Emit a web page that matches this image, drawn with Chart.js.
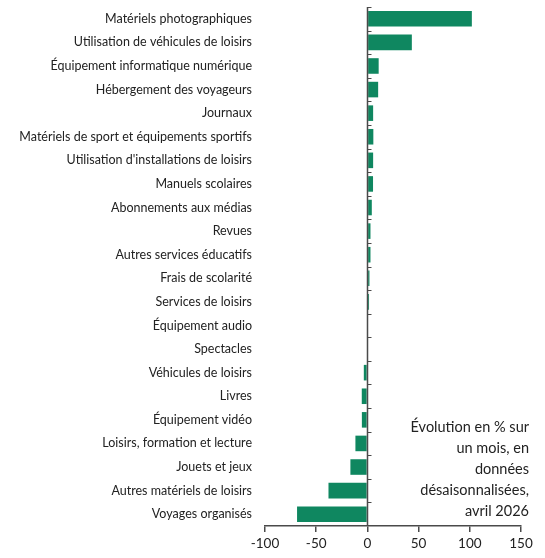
<!DOCTYPE html>
<html lang="fr">
<head>
<meta charset="utf-8">
<script src="https://cdn.jsdelivr.net/npm/chart.js@4.4.1/dist/chart.umd.min.js"></script>
<style>
    html, body { margin: 0; padding: 0; background: #fff; }
    #wrap { position: relative; width: 545px; height: 558px; }
    canvas { display: block; }
    #note {
        position: absolute; right: 16px; top: 416px;
        font-family: Lato, sans-serif; font-size: 14.5px; line-height: 21px;
        color: #222; text-align: right;
    }
</style>
</head>
<body>
<div id="wrap">
    <canvas id="chart" width="545" height="558"></canvas>
    <div id="note">Évolution en % sur<br>un mois, en<br>données<br>désaisonnalisées,<br>avril 2026</div>
</div>
<script>
const categories = [
    "Matériels photographiques",
    "Utilisation de véhicules de loisirs",
    "Équipement informatique numérique",
    "Hébergement des voyageurs",
    "Journaux",
    "Matériels de sport et équipements sportifs",
    "Utilisation d'installations de loisirs",
    "Manuels scolaires",
    "Abonnements aux médias",
    "Revues",
    "Autres services éducatifs",
    "Frais de scolarité",
    "Services de loisirs",
    "Équipement audio",
    "Spectacles",
    "Véhicules de loisirs",
    "Livres",
    "Équipement vidéo",
    "Loisirs, formation et lecture",
    "Jouets et jeux",
    "Autres matériels de loisirs",
    "Voyages organisés"
];
const changes = [102, 43.4, 11, 10.5, 5.6, 5.8, 5.6, 5.5, 4.3, 3, 3, 2, 1.6, 0, 0,
    -3.5, -5.5, -5.4, -11.7, -16.6, -38, -68.7];
const xTicks = [-100, -50, 0, 50, 100, 150];

const axisColor = '#4a4a4a';

// zero line with small ticks between categories
const zeroAxis = {
    id: 'zeroAxis',
    afterDatasetsDraw(chart) {
        const { ctx, scales: { x }, chartArea } = chart;
        const x0 = Math.round(x.getPixelForValue(0)) + 0.5;
        ctx.save();
        ctx.strokeStyle = axisColor;
        ctx.lineWidth = 1.5;
        ctx.beginPath();
        ctx.moveTo(x0, chartArea.top);
        ctx.lineTo(x0, chartArea.bottom);
        ctx.stroke();
        ctx.lineWidth = 1;
        const step = (chartArea.bottom - chartArea.top) / categories.length;
        for (let i = 0; i < categories.length; i++) {
            const yy = Math.round(chartArea.top + i * step) + 0.5;
            ctx.beginPath();
            ctx.moveTo(x0, yy);
            ctx.lineTo(x0 + 4, yy);
            ctx.stroke();
        }
        ctx.restore();
    }
};

new Chart(document.getElementById('chart').getContext('2d'), {
    type: 'bar',
    data: {
        labels: categories,
        datasets: [{
            data: changes,
            backgroundColor: '#0f8760',
            borderWidth: 0,
            barPercentage: 0.66,
            categoryPercentage: 1
        }]
    },
    options: {
        indexAxis: 'y',
        responsive: false,
        animation: false,
        layout: { padding: { top: 7, right: 24, left: 0, bottom: 0 } },
        plugins: { legend: { display: false }, tooltip: { enabled: false } },
        scales: {
            x: {
                min: -100, max: 150,
                afterBuildTicks(scale) { scale.ticks = xTicks.map(v => ({ value: v })); },
                afterFit(scale) { scale.height = 32; scale.paddingLeft = 0; scale.paddingRight = 0; },
                border: { display: true, color: axisColor, width: 1.5 },
                grid: { drawOnChartArea: false, drawTicks: true, tickLength: 6, color: axisColor, lineWidth: 1.5 },
                ticks: { padding: 4, color: '#222', font: { family: 'Lato', size: 13.5 } }
            },
            y: {
                afterFit(scale) { scale.width = 265; scale.paddingTop = 0; scale.paddingBottom = 0; },
                border: { display: false },
                grid: { display: false, drawTicks: false },
                ticks: { padding: 13, color: '#222', autoSkip: false, font: { family: 'Lato', size: 12.5 } }
            }
        }
    },
    plugins: [zeroAxis]
});
</script>
</body>
</html>
